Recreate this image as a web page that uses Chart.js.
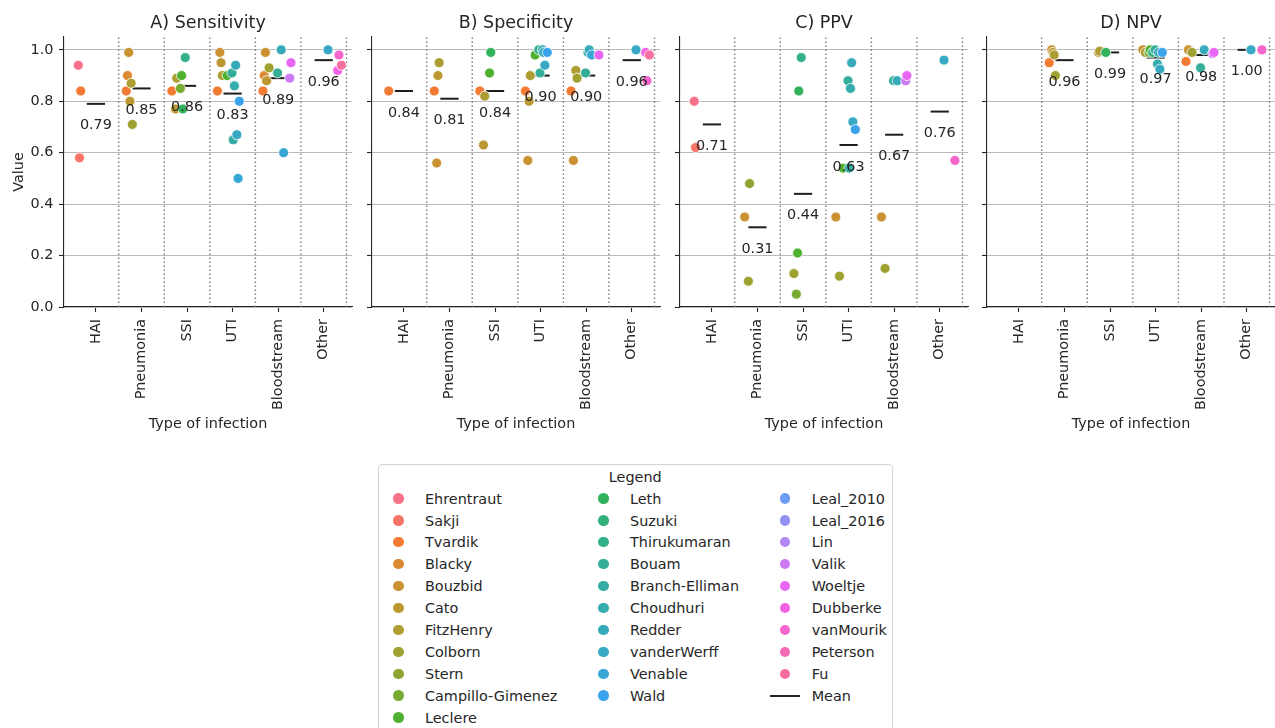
<!DOCTYPE html>
<html>
<head>
<meta charset="utf-8">
<title>Detection performance by type of infection</title>
<script src="https://cdn.jsdelivr.net/npm/chart.js@4.4.1/dist/chart.umd.min.js"></script>
<style>
  html, body { margin: 0; padding: 0; background: #fff; }
  body { width: 1275px; height: 728px; position: relative; overflow: hidden; font-family: "DejaVu Sans", sans-serif; color: #262626; }
  canvas.panel { position: absolute; top: 0; }
  #legendFrame { position: absolute; left: 377.5px; top: 463.5px; width: 515.5px; height: 290px; border: 1px solid #d4d4d4; border-radius: 4px; box-sizing: border-box; }
  .lg { position: absolute; font-size: 14.4px; line-height: 17px; white-space: nowrap; color: #262626; }
  .dot { position: absolute; width: 10.6px; height: 10.6px; border-radius: 50%; }
  .meanline { position: absolute; height: 1.6px; background: #262626; }
</style>
</head>
<body>
<div id="legendFrame"></div>
<script>
// ---- data ----
const studies = ['Ehrentraut', 'Sakji', 'Tvardik', 'Blacky', 'Bouzbid', 'Cato', 'FitzHenry', 'Colborn',
  'Stern', 'Campillo-Gimenez', 'Leclere', 'Leth', 'Suzuki', 'Thirukumaran', 'Bouam', 'Branch-Elliman',
  'Choudhuri', 'Redder', 'vanderWerff', 'Venable', 'Wald', 'Leal_2010', 'Leal_2016', 'Lin', 'Valik',
  'Woeltje', 'Dubberke', 'vanMourik', 'Peterson', 'Fu'];
const categories = ['HAI', 'Pneumonia', 'SSI', 'UTI', 'Bloodstream', 'Other'];
const panelTitles = ['A) Sensitivity', 'B) Specificity', 'C) PPV', 'D) NPV'];
const yTicks = [0, 0.2, 0.4, 0.6, 0.8, 1.0];
const xAxisTitle = 'Type of infection';
const yAxisTitle = 'Value';
const legendTitle = 'Legend';
const meanLabel = 'Mean';

// [study, type of infection, value]
const sensitivity = [
  ['Ehrentraut', 'HAI', 0.94], ['Tvardik', 'HAI', 0.84], ['Sakji', 'HAI', 0.58],
  ['Tvardik', 'Pneumonia', 0.84], ['Blacky', 'Pneumonia', 0.90], ['Bouzbid', 'Pneumonia', 0.99],
  ['Cato', 'Pneumonia', 0.80], ['FitzHenry', 'Pneumonia', 0.87], ['Colborn', 'Pneumonia', 0.71],
  ['Tvardik', 'SSI', 0.84], ['Cato', 'SSI', 0.77], ['FitzHenry', 'SSI', 0.89], ['Campillo-Gimenez', 'SSI', 0.85],
  ['Leclere', 'SSI', 0.90], ['Leth', 'SSI', 0.77], ['Thirukumaran', 'SSI', 0.97],
  ['Tvardik', 'UTI', 0.84], ['Bouzbid', 'UTI', 0.99], ['Cato', 'UTI', 0.95], ['FitzHenry', 'UTI', 0.90],
  ['Leclere', 'UTI', 0.90], ['Bouam', 'UTI', 0.91], ['Branch-Elliman', 'UTI', 0.65], ['Choudhuri', 'UTI', 0.86],
  ['Redder', 'UTI', 0.94], ['vanderWerff', 'UTI', 0.67], ['Venable', 'UTI', 0.50], ['Wald', 'UTI', 0.80],
  ['Tvardik', 'Bloodstream', 0.84], ['Blacky', 'Bloodstream', 0.90], ['Bouzbid', 'Bloodstream', 0.99],
  ['Cato', 'Bloodstream', 0.88], ['Colborn', 'Bloodstream', 0.93], ['Bouam', 'Bloodstream', 0.91],
  ['Redder', 'Bloodstream', 1.00], ['Venable', 'Bloodstream', 0.60], ['Valik', 'Bloodstream', 0.89],
  ['Woeltje', 'Bloodstream', 0.95],
  ['vanderWerff', 'Other', 1.00], ['Dubberke', 'Other', 0.92], ['vanMourik', 'Other', 0.98], ['Fu', 'Other', 0.94]
];
const sensitivityMeans = [0.79, 0.85, 0.86, 0.83, 0.89, 0.96];

const specificity = [
  ['Tvardik', 'HAI', 0.84],
  ['Tvardik', 'Pneumonia', 0.84], ['Bouzbid', 'Pneumonia', 0.56], ['Cato', 'Pneumonia', 0.90], ['FitzHenry', 'Pneumonia', 0.95],
  ['Tvardik', 'SSI', 0.84], ['Cato', 'SSI', 0.63], ['FitzHenry', 'SSI', 0.82], ['Leclere', 'SSI', 0.91], ['Leth', 'SSI', 0.99],
  ['Tvardik', 'UTI', 0.84], ['Bouzbid', 'UTI', 0.57], ['Cato', 'UTI', 0.80], ['FitzHenry', 'UTI', 0.90],
  ['Leclere', 'UTI', 0.98], ['Thirukumaran', 'UTI', 1.00], ['Bouam', 'UTI', 0.91], ['Choudhuri', 'UTI', 1.00],
  ['Redder', 'UTI', 0.99], ['vanderWerff', 'UTI', 0.94], ['Wald', 'UTI', 0.99],
  ['Tvardik', 'Bloodstream', 0.84], ['Bouzbid', 'Bloodstream', 0.57], ['FitzHenry', 'Bloodstream', 0.92],
  ['Colborn', 'Bloodstream', 0.89], ['Bouam', 'Bloodstream', 0.91], ['Choudhuri', 'Bloodstream', 0.99],
  ['Redder', 'Bloodstream', 1.00], ['Venable', 'Bloodstream', 0.98], ['Woeltje', 'Bloodstream', 0.98],
  ['vanderWerff', 'Other', 1.00], ['Dubberke', 'Other', 0.99], ['vanMourik', 'Other', 0.88], ['Fu', 'Other', 0.98]
];
const specificityMeans = [0.84, 0.81, 0.84, 0.90, 0.90, 0.96];

const ppv = [
  ['Ehrentraut', 'HAI', 0.80], ['Sakji', 'HAI', 0.62],
  ['Bouzbid', 'Pneumonia', 0.35], ['Colborn', 'Pneumonia', 0.10], ['Stern', 'Pneumonia', 0.48],
  ['Colborn', 'SSI', 0.13], ['Campillo-Gimenez', 'SSI', 0.05], ['Leclere', 'SSI', 0.21], ['Leth', 'SSI', 0.84],
  ['Thirukumaran', 'SSI', 0.97],
  ['Bouzbid', 'UTI', 0.35], ['Colborn', 'UTI', 0.12], ['Leclere', 'UTI', 0.54], ['Bouam', 'UTI', 0.88],
  ['Branch-Elliman', 'UTI', 0.54], ['Choudhuri', 'UTI', 0.85], ['Redder', 'UTI', 0.95], ['vanderWerff', 'UTI', 0.72],
  ['Wald', 'UTI', 0.69],
  ['Bouzbid', 'Bloodstream', 0.35], ['Colborn', 'Bloodstream', 0.15], ['Bouam', 'Bloodstream', 0.88],
  ['Redder', 'Bloodstream', 0.88], ['Valik', 'Bloodstream', 0.88], ['Woeltje', 'Bloodstream', 0.90],
  ['vanderWerff', 'Other', 0.96], ['vanMourik', 'Other', 0.57]
];
const ppvMeans = [0.71, 0.31, 0.44, 0.63, 0.67, 0.76];

const npv = [
  ['Tvardik', 'Pneumonia', 0.95], ['Bouzbid', 'Pneumonia', 1.00], ['Cato', 'Pneumonia', 0.99],
  ['FitzHenry', 'Pneumonia', 0.98], ['Colborn', 'Pneumonia', 0.90],
  ['Cato', 'SSI', 0.99], ['FitzHenry', 'SSI', 0.995], ['Leth', 'SSI', 0.99],
  ['Bouzbid', 'UTI', 1.00], ['FitzHenry', 'UTI', 0.99], ['Campillo-Gimenez', 'UTI', 0.99], ['Leclere', 'UTI', 1.00],
  ['Suzuki', 'UTI', 0.99], ['Bouam', 'UTI', 1.00], ['Choudhuri', 'UTI', 0.945], ['Redder', 'UTI', 0.99],
  ['vanderWerff', 'UTI', 0.925], ['Wald', 'UTI', 0.99],
  ['Tvardik', 'Bloodstream', 0.955], ['Bouzbid', 'Bloodstream', 1.00], ['Colborn', 'Bloodstream', 0.99],
  ['Bouam', 'Bloodstream', 0.93], ['Redder', 'Bloodstream', 1.00], ['Valik', 'Bloodstream', 0.985],
  ['Woeltje', 'Bloodstream', 0.99],
  ['vanderWerff', 'Other', 1.00], ['vanMourik', 'Other', 1.00]
];
const npvMeans = [null, 0.96, 0.99, 0.97, 0.98, 1.00];

// ---- layout ----
const panelLefts = [64, 372, 680, 987];   // left edge of each plotting area (px)
const AXIS_W = 64, PLOT_W = 288, CANVAS_H = 445, PLOT_TOP = 37, PLOT_BOTTOM = 307;
const X_MIN = -0.7, X_MAX = 5.62, Y_MIN = 0, Y_MAX = 1.05;
const DODGE = 0.8, POINT_R = 5.0, MEAN_HALF = 0.2;
const FONT = '"DejaVu Sans"';
const INK = '#262626';

// ---- HUSL palette (evenly spaced hues, as in seaborn's husl_palette) ----
function huslToRgb(h, s, l) {
  const M = [[3.240969941904521, -1.537383177570093, -0.498610760293],
             [-0.96924363628087, 1.87596750150772, 0.041555057407175],
             [0.055630079696993, -0.20397695888897, 1.056971514242878]];
  const refU = 0.19783000664283, refV = 0.46831999493879;
  const kappa = 903.2962962, eps = 0.0088564516;
  if (l > 99.9999) return [1, 1, 1];
  if (l < 0.00001) return [0, 0, 0];
  const hrad = h / 180 * Math.PI, sinH = Math.sin(hrad), cosH = Math.cos(hrad);
  const sub1 = Math.pow(l + 16, 3) / 1560896;
  const sub2 = sub1 > eps ? sub1 : l / kappa;
  let maxC = Infinity;
  for (const [m1, m2, m3] of M) {
    const top = (0.99915 * m1 + 1.05122 * m2 + 1.14460 * m3) * sub2;
    const rb = 0.86330 * m3 - 0.17266 * m2;
    const lb = 0.12949 * m3 - 0.38848 * m1;
    const bottom = (rb * sinH + lb * cosH) * sub2;
    for (const t of [0, 1]) {
      const C = l * (top - 1.05122 * t) / (bottom + 0.17266 * sinH * t);
      if (C > 0 && C < maxC) maxC = C;
    }
  }
  const C = maxC / 100 * s;
  const U = cosH * C, V = sinH * C;
  const t = (l + 16) / 116;
  const varY = Math.pow(t, 3) > eps ? Math.pow(t, 3) : (116 * t - 16) / kappa;
  const varU = U / (13 * l) + refU, varV = V / (13 * l) + refV;
  const Y = varY;
  const X = 0 - (9 * Y * varU) / ((varU - 4) * varV - varU * varV);
  const Z = (9 * Y - 15 * varV * Y - varV * X) / (3 * varV);
  return M.map(r => {
    const c = r[0] * X + r[1] * Y + r[2] * Z;
    const g = c <= 0.0031308 ? 12.92 * c : 1.055 * Math.pow(c, 1 / 2.4) - 0.055;
    return Math.min(1, Math.max(0, g));
  });
}
function huslPalette(n, h0 = 0.01, s = 0.9, l = 0.65) {
  const out = [];
  for (let i = 0; i < n; i++) {
    const hue = ((i / n + h0) % 1) * 359;
    const rgb = huslToRgb(hue, s * 99, l * 99).map(v => Math.round(v * 255));
    out.push(`rgb(${rgb[0]},${rgb[1]},${rgb[2]})`);
  }
  return out;
}
const palette = huslPalette(studies.length);

// ---- point placement: each study gets its own dodge slot inside a category ----
const pxPerX = PLOT_W / (X_MAX - X_MIN);
const pxPerY = (PLOT_BOTTOM - PLOT_TOP) / (Y_MAX - Y_MIN);
function slotOffset(si) { return -DODGE / 2 + (si + 0.5) * DODGE / studies.length; }
function buildPoints(records) {
  const pts = records.map(([s, c, v]) => ({ study: studies.indexOf(s), cat: categories.indexOf(c), y: v }));
  pts.sort((a, b) => a.study - b.study || a.cat - b.cat);
  const groups = {};
  pts.forEach(p => {
    const key = p.cat + ':' + p.study;
    const g = groups[key] || (groups[key] = []);
    let shift = 0, k = 0;
    const hits = sh => g.some(q => Math.hypot((sh - q.shift) * pxPerX, (p.y - q.y) * pxPerY) < 2 * POINT_R);
    while (hits(shift)) { k++; shift = (k % 2 ? 1 : -1) * Math.ceil(k / 2) * (2 * POINT_R / pxPerX); }
    p.shift = shift; g.push(p);
    p.x = p.cat + slotOffset(p.study) + shift;
  });
  return pts;
}

// ---- text drawn on each panel: title, axis titles and mean values ----
function panelTextPlugin(title, means, showYTitle) {
  return {
    id: 'panelText',
    afterDatasetsDraw(chart) {
      const { ctx, chartArea, scales } = chart;
      const cx = (chartArea.left + chartArea.right) / 2;
      ctx.save();
      ctx.fillStyle = INK;
      ctx.textAlign = 'center';
      ctx.textBaseline = 'alphabetic';
      ctx.font = '17.5px ' + FONT;
      ctx.fillText(title, cx, 28.3);
      ctx.font = '14.4px ' + FONT;
      ctx.fillText(xAxisTitle, cx, 428);
      means.forEach((m, i) => {
        if (m === null) return;
        ctx.fillText(m.toFixed(2), scales.x.getPixelForValue(i), scales.y.getPixelForValue(m) + 25.5);
      });
      if (showYTitle) {
        ctx.translate(22.5, (chartArea.top + chartArea.bottom) / 2);
        ctx.rotate(-Math.PI / 2);
        ctx.fillText(yAxisTitle, 0, 0);
      }
      ctx.restore();
    }
  };
}

const panelRecords = [sensitivity, specificity, ppv, npv];
const panelMeans = [sensitivityMeans, specificityMeans, ppvMeans, npvMeans];

panelRecords.forEach((records, pi) => {
  const canvas = document.createElement('canvas');
  canvas.className = 'panel';
  canvas.width = AXIS_W + PLOT_W + 6;
  canvas.height = CANVAS_H;
  canvas.style.left = (panelLefts[pi] - AXIS_W) + 'px';
  document.body.appendChild(canvas);

  const pts = buildPoints(records);
  const means = panelMeans[pi];
  const datasets = [{
    type: 'scatter',
    data: pts.map(p => ({ x: p.x, y: p.y })),
    pointBackgroundColor: pts.map(p => palette[p.study]),
    pointBorderColor: '#ffffff',
    pointBorderWidth: 0.8,
    pointRadius: POINT_R,
    order: 0
  }];
  means.forEach((m, i) => {
    if (m === null) return;
    datasets.push({
      type: 'line', data: [{ x: i - MEAN_HALF, y: m }, { x: i + MEAN_HALF, y: m }],
      borderColor: '#1e1e1e', borderWidth: 2, pointRadius: 0, order: 1
    });
  });
  categories.forEach((c, i) => {
    datasets.push({
      type: 'line', data: [{ x: i + 0.5, y: Y_MIN }, { x: i + 0.5, y: Y_MAX }],
      borderColor: '#7d7d7d', borderWidth: 1.4, borderDash: [1.4, 2.6], pointRadius: 0, order: 2
    });
  });

  new Chart(canvas, {
    type: 'scatter',
    data: { datasets },
    options: {
      responsive: false,
      animation: false,
      events: [],
      layout: { padding: { left: 0, right: 6, top: PLOT_TOP, bottom: 0 } },
      plugins: { legend: { display: false }, tooltip: { enabled: false } },
      scales: {
        x: {
          type: 'linear', min: X_MIN, max: X_MAX,
          afterBuildTicks: s => { s.ticks = categories.map((c, i) => ({ value: i })); },
          afterFit: s => { s.height = CANVAS_H - PLOT_BOTTOM; },
          ticks: {
            autoSkip: false, minRotation: 90, maxRotation: 90, padding: 7, color: INK,
            font: { family: FONT, size: 14.4 },
            callback: v => categories[v]
          },
          grid: { drawOnChartArea: false, drawTicks: true, tickLength: 5, tickColor: INK, tickWidth: 1.1 },
          border: { display: true, color: INK, width: 1.1 }
        },
        y: {
          type: 'linear', min: Y_MIN, max: Y_MAX,
          afterBuildTicks: s => { s.ticks = yTicks.map(v => ({ value: v })); },
          afterFit: s => { s.width = AXIS_W; },
          ticks: {
            display: pi === 0, padding: 5.5, color: INK,
            font: { family: FONT, size: 14.4 },
            callback: v => v.toFixed(1)
          },
          grid: { color: '#b9b9b9', lineWidth: 1, drawTicks: true, tickLength: 5, tickColor: INK, tickWidth: 1.1 },
          border: { display: true, color: INK, width: 1.1 }
        }
      }
    },
    plugins: [panelTextPlugin(panelTitles[pi], means, pi === 0)]
  });
});

// ---- legend (column-major, three columns) ----
(function buildLegend() {
  const entries = studies.concat([meanLabel]);
  const ncol = 3;
  const base = Math.floor(entries.length / ncol), extra = entries.length % ncol;
  const markerX = [398.3, 603.3, 785];
  const textX = [425, 630, 811.7];
  const firstRowY = 498.3, rowStep = 21.94;
  const add = (cls, css, text) => {
    const el = document.createElement('div');
    el.className = cls;
    Object.assign(el.style, css);
    if (text) el.textContent = text;
    document.body.appendChild(el);
    return el;
  };
  add('lg', { left: '377.5px', width: '515.5px', textAlign: 'center', top: (477 - 8.2) + 'px' }, legendTitle);
  let k = 0;
  for (let c = 0; c < ncol; c++) {
    const rows = base + (c < extra ? 1 : 0);
    for (let r = 0; r < rows; r++, k++) {
      const y = firstRowY + r * rowStep;
      const name = entries[k];
      if (k < studies.length) {
        add('dot', { left: (markerX[c] - 5.3) + 'px', top: (y - 5.3) + 'px', background: palette[k] });
      } else {
        add('meanline', { left: (textX[c] - 41.7) + 'px', width: '30px', top: (y - 0.8) + 'px' });
      }
      add('lg', { left: textX[c] + 'px', top: (y + 0.5 - 8.2) + 'px' }, name);
    }
  }
})();
</script>
</body>
</html>
